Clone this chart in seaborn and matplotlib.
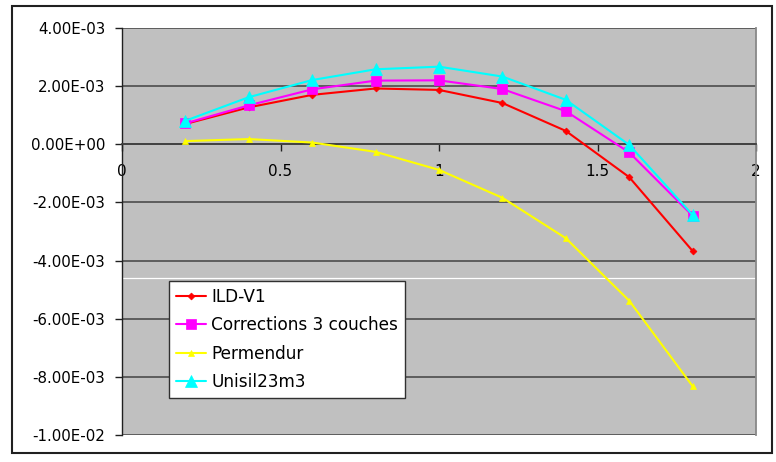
import matplotlib
matplotlib.use("Agg")
import matplotlib.pyplot as plt
from matplotlib.patches import Rectangle
from matplotlib.ticker import FuncFormatter, MultipleLocator
import seaborn as sns

x_vals = [0.2, 0.4, 0.6, 0.8, 1.0, 1.2, 1.4, 1.6, 1.8]
ild_v1 = [0.70e-3, 1.27e-3, 1.70e-3, 1.92e-3, 1.87e-3, 1.42e-3, 0.46e-3, -1.13e-3, -3.67e-3]
corrections = [0.72e-3, 1.34e-3, 1.89e-3, 2.19e-3, 2.20e-3, 1.90e-3, 1.14e-3, -0.28e-3, -2.46e-3]
permendur = [0.11e-3, 0.18e-3, 0.06e-3, -0.26e-3, -0.88e-3, -1.84e-3, -3.23e-3, -5.38e-3, -8.32e-3]
unisil = [0.81e-3, 1.62e-3, 2.21e-3, 2.58e-3, 2.67e-3, 2.33e-3, 1.53e-3, -0.02e-3, -2.43e-3]
series_names = ["ILD-V1", "Corrections 3 couches", "Permendur", "Unisil23m3"]
white_line_y = -4.6e-3

sns.set_style("white")
plt.rcParams['font.family'] = ['DejaVu Sans']
plt.rcParams['text.color'] = 'black'
plt.rcParams['xtick.color'] = 'black'
plt.rcParams['ytick.color'] = 'black'

fig = plt.figure(figsize=(7.76, 4.62), dpi=100)
ax = fig.add_axes([122/776, 1-435/462, (756-122)/776, (435-28)/462])
ax.set_facecolor("#C0C0C0")

styles = [
    dict(color="#FF0000", marker="D", markersize=3.5),
    dict(color="#FF00FF", marker="s", markersize=7),
    dict(color="#FFFF00", marker="^", markersize=5),
    dict(color="#00FFFF", marker="^", markersize=8.5),
]
for vals, name, st in zip([ild_v1, corrections, permendur, unisil], series_names, styles):
    sns.lineplot(x=x_vals, y=vals, ax=ax, color=st["color"], marker=st["marker"],
                 markersize=st["markersize"], markeredgecolor=st["color"],
                 markeredgewidth=0.5, linewidth=1.5, label=name, zorder=5)

ax.axhline(white_line_y, color="white", linewidth=0.9, zorder=2)

ax.set_xlim(0, 2)
ax.set_ylim(-0.01, 0.004)
ax.yaxis.set_major_locator(MultipleLocator(0.002))
ax.xaxis.set_major_locator(MultipleLocator(0.5))
ax.yaxis.set_major_formatter(FuncFormatter(lambda v, p: f"{v:.2E}"))
ax.xaxis.set_major_formatter(FuncFormatter(lambda v, p: f"{v:g}"))
ax.grid(axis="y", color="#555555", linewidth=1.3, zorder=1)
ax.grid(axis="x", visible=False)
ax.set_axisbelow(True)

ax.spines["bottom"].set_position(("data", 0))
ax.spines["bottom"].set_color("#404040")
ax.spines["bottom"].set_linewidth(1.3)
ax.spines["left"].set_color("#202020")
ax.spines["left"].set_linewidth(1.0)
ax.spines["top"].set_visible(False)
ax.spines["right"].set_color("#888888")
ax.spines["right"].set_linewidth(1.3)

ax.tick_params(axis="y", direction="out", length=5, width=1, color="#202020",
               labelcolor="black", pad=7, labelsize=10.8, left=True)
ax.tick_params(axis="x", direction="out", length=5, width=1, color="#202020",
               labelcolor="black", pad=9, labelsize=11, bottom=True)

leg = ax.legend(loc="upper left", bbox_to_anchor=((169-122)/634, (435-281)/407),
                frameon=True, fancybox=False, framealpha=1, edgecolor="#303030",
                fontsize=12.2, handlelength=1.8, handletextpad=0.3, labelspacing=0.62,
                borderpad=0.4, borderaxespad=0)
leg.get_frame().set_linewidth(1.0)
leg.set_zorder(10)
for t in leg.get_texts():
    t.set_color("black")

fig.patches.append(Rectangle((12/776, 1-453/462), (772-12)/776, (453-6)/462,
                             transform=fig.transFigure, fill=False,
                             edgecolor="#202020", linewidth=1.5))

fig.savefig("out.png", dpi=100)
